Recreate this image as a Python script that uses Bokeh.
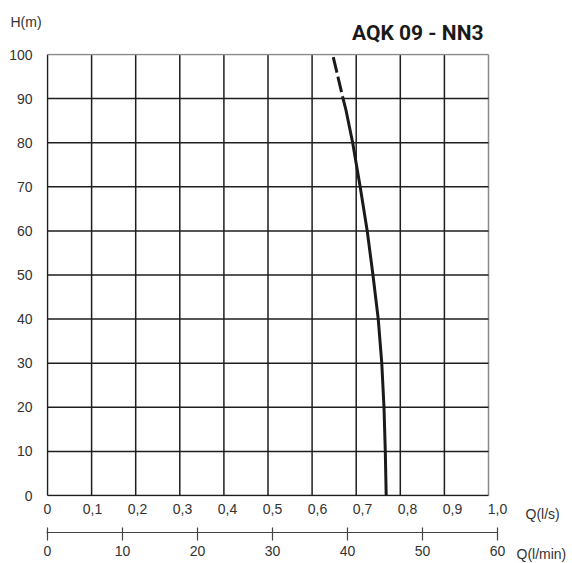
from bokeh.plotting import figure
from bokeh.models import Range1d, LinearAxis, FixedTicker, Label
from bokeh.embed import file_html
from bokeh.resources import INLINE

# ---------------- data ----------------
TITLE = "AQK 09 - NN3"
H_TICKS = [0, 10, 20, 30, 40, 50, 60, 70, 80, 90, 100]
H_LABELS = ["0", "10", "20", "30", "40", "50", "60", "70", "80", "90", "100"]
Q_LPS_TICKS = [0, 0.1, 0.2, 0.3, 0.4, 0.5, 0.6, 0.7, 0.8, 0.9, 1.0]
Q_LPS_LABELS = ["0", "0,1", "0,2", "0,3", "0,4", "0,5", "0,6", "0,7", "0,8", "0,9", "1,0"]
Q_LPM_TICKS = [0, 10, 20, 30, 40, 50, 60]
Q_LPM_LABELS = ["0", "10", "20", "30", "40", "50", "60"]
GRID_Q = [0, 0.1, 0.2, 0.3, 0.4, 0.5, 0.6, 0.7, 0.8, 0.9, 1.0]

# pump curve (Q in grid units l/s, H in m)
Q_DASH = [0.648, 0.669]
H_DASH = [99.4, 90.5]
Q_SOLID = [0.669, 0.677, 0.692, 0.709, 0.725, 0.738, 0.750, 0.758, 0.763, 0.766, 0.768]
H_SOLID = [90.5, 87.3, 80, 70, 60, 50, 40, 30, 20, 10, 0]

# ---------------- layout ----------------
W, HGT = 572, 563
FRAME_W, FRAME_H = 451, 443
B_LEFT, B_TOP = 46, 53
LABEL_PX = 450          # px for 1 l/s on the labelled axes
GRID_PX = 441           # px for 1 l/s on the drawn grid
x_pad = 1.0 / LABEL_PX
y_pad = (H_TICKS[-1] - H_TICKS[0]) / GRID_PX
stretch = LABEL_PX / GRID_PX

x0, x1 = Q_LPS_TICKS[0] - x_pad, Q_LPS_TICKS[-1]
p = figure(width=W, height=HGT, output_backend="svg", toolbar_location=None,
           x_range=Range1d(x0, x1),
           y_range=Range1d(H_TICKS[0] - y_pad, H_TICKS[-1] + y_pad),
           x_axis_location=None, y_axis_location=None,
           min_border_left=B_LEFT, min_border_top=B_TOP,
           min_border_right=W - B_LEFT - FRAME_W,
           min_border_bottom=HGT - B_TOP - FRAME_H)
p.extra_x_ranges = {
    "grid": Range1d(x0 * stretch, x1 * stretch),
    "lpm": Range1d(x0 * Q_LPM_TICKS[-1], x1 * Q_LPM_TICKS[-1]),
}
p.outline_line_color = None
p.xgrid.visible = False
p.ygrid.visible = False
p.background_fill_color = "white"
p.border_fill_color = "white"

DARK = "#1e1e1e"
LIGHT = "#8a8a8a"
GW = 1.5

# grid lines (vertical)
p.segment(x0=GRID_Q[:-1], x1=GRID_Q[:-1], y0=H_TICKS[0], y1=H_TICKS[-1],
          x_range_name="grid", line_color=DARK, line_width=GW)
p.segment(x0=GRID_Q[-1:], x1=GRID_Q[-1:], y0=H_TICKS[0], y1=H_TICKS[-1],
          x_range_name="grid", line_color=LIGHT, line_width=GW)
# grid lines (horizontal)
p.segment(x0=GRID_Q[0], x1=GRID_Q[-1], y0=H_TICKS[:-1], y1=H_TICKS[:-1],
          x_range_name="grid", line_color=DARK, line_width=GW)
p.segment(x0=GRID_Q[0], x1=GRID_Q[-1], y0=H_TICKS[-1:], y1=H_TICKS[-1:],
          x_range_name="grid", line_color=LIGHT, line_width=GW)

# curve
p.line(Q_SOLID, H_SOLID, x_range_name="grid", line_color="#1a1a1a",
       line_width=3, line_join="round")
p.line(Q_DASH, H_DASH, x_range_name="grid", line_color="#1a1a1a",
       line_width=3, line_dash="16 4")

FONT = "Liberation Sans"
TXT = "#333333"

# y axis (labels only)
ay = LinearAxis(ticker=FixedTicker(ticks=H_TICKS),
                major_label_overrides=dict(zip(H_TICKS, H_LABELS)))
ay.axis_line_color = None
ay.major_tick_line_color = None
ay.minor_tick_line_color = None
ay.major_tick_in = 0
ay.major_tick_out = 0
ay.major_label_standoff = 14
ay.major_label_text_font = FONT
ay.major_label_text_font_size = "14px"
ay.major_label_text_color = TXT
p.add_layout(ay, "left")

# l/s axis (labels only)
ax1 = LinearAxis(ticker=FixedTicker(ticks=Q_LPS_TICKS),
                 major_label_overrides=dict(zip(Q_LPS_TICKS, Q_LPS_LABELS)))
ax1.axis_line_color = None
ax1.major_tick_line_color = None
ax1.minor_tick_line_color = None
ax1.major_tick_in = 0
ax1.major_tick_out = 0
ax1.major_label_standoff = 7
ax1.major_label_text_font = FONT
ax1.major_label_text_font_size = "14px"
ax1.major_label_text_color = TXT
p.add_layout(ax1, "below")

# "Q(l/s)" caption sits between the two flow axes
p.add_layout(Label(x=Q_LPS_TICKS[-1], y=H_TICKS[0], text="Q(l/s)", x_offset=28,
                   y_offset=-18, text_align="left", text_baseline="alphabetic",
                   text_font=FONT, text_font_size="14px", text_color=TXT), "below")

# l/min axis
ax2 = LinearAxis(x_range_name="lpm", ticker=FixedTicker(ticks=Q_LPM_TICKS),
                 major_label_overrides=dict(zip(Q_LPM_TICKS, Q_LPM_LABELS)))
ax2.axis_line_color = "#444444"
ax2.axis_line_width = 1.2
ax2.major_tick_line_color = "#444444"
ax2.major_tick_line_width = 1.2
ax2.minor_tick_line_color = None
ax2.major_tick_in = 5
ax2.major_tick_out = 8
ax2.major_label_standoff = 5
ax2.major_label_text_font = FONT
ax2.major_label_text_font_size = "14px"
ax2.major_label_text_color = TXT
p.add_layout(ax2, "below")

p.add_layout(Label(x=Q_LPS_TICKS[-1], y=H_TICKS[0], text="Q(l/min)", x_offset=19,
                   y_offset=-58, text_align="left", text_baseline="alphabetic",
                   text_font=FONT, text_font_size="14px", text_color=TXT), "right")

# top texts
p.add_layout(Label(x=Q_LPS_TICKS[-1], y=H_TICKS[-1], text=TITLE, x_offset=-14,
                   y_offset=22, text_align="right", text_baseline="alphabetic",
                   text_font="Roboto", text_font_style="bold",
                   text_font_size="21px", text_color="#1a1a1a"), "above")
p.add_layout(Label(x=Q_LPS_TICKS[0], y=H_TICKS[-1], text="H(m)", x_offset=-37,
                   y_offset=33, text_align="left", text_baseline="alphabetic",
                   text_font=FONT, text_font_size="14px", text_color=TXT), "above")

open("out.html", "w").write(file_html(p, INLINE))
